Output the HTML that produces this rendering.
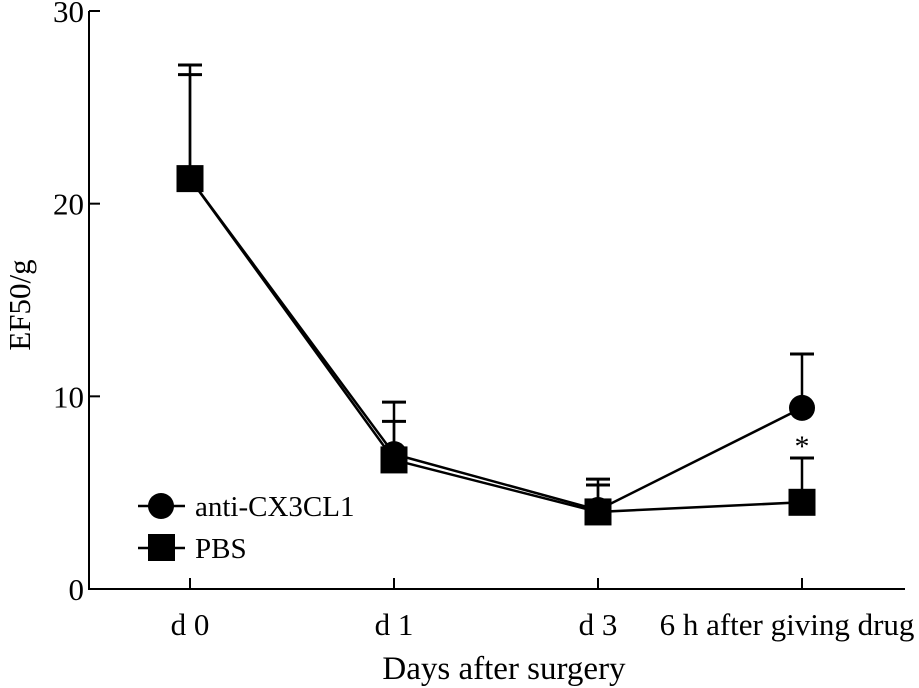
<!DOCTYPE html>
<html><head><meta charset="utf-8"><style>
body{margin:0;background:#fff}
svg{display:block;font-family:"Liberation Serif",serif}
</style></head><body>
<svg id="chart" width="919" height="688" viewBox="0 0 919 688" xmlns="http://www.w3.org/2000/svg"></svg>
<script>
const categories=["d 0","d 1","d 3","6 h after giving drug"];
const antiValues=[21.3,7.0,4.1,9.4];
const antiErr=[27.2,9.7,5.7,12.2];
const pbsValues=[21.3,6.7,4.0,4.5];
const pbsErr=[26.7,8.7,5.4,6.8];
const yTicks=[0,10,20,30];
const NS="http://www.w3.org/2000/svg";
const svg=document.getElementById('chart');
const catX=[190,394,598,802];
function xs(i){return catX[i];}
function ys(v){return 589-v*(578/30);}
function mk(t,a,p){const e=document.createElementNS(NS,t);for(const k in a)e.setAttribute(k,a[k]);(p||svg).appendChild(e);return e;}
let ya=mk('line',{x1:89,y1:11,x2:89,y2:590,stroke:'#000','stroke-width':2});


let xa=mk('line',{x1:88,y1:589,x2:905,y2:589,stroke:'#000','stroke-width':2});


yTicks.forEach(v=>{
  mk('line',{x1:89,y1:ys(v),x2:100,y2:ys(v),stroke:'#000','stroke-width':2});
  const t=mk('text',{x:84,y:ys(v)+11,'text-anchor':'end','font-size':31});
  t.textContent=v;
  
  
});
categories.forEach((c,i)=>{
  mk('line',{x1:xs(i),y1:578,x2:xs(i),y2:589,stroke:'#000','stroke-width':2});
  const t=mk('text',{x:i==3?787:xs(i),y:635,'text-anchor':'middle','font-size':31});
  t.textContent=c;
  
  
});
let xt=mk('text',{x:504,y:679,'text-anchor':'middle','font-size':33});
xt.textContent='Days after surgery';


let yt=mk('text',{x:0,y:0,'text-anchor':'middle','font-size':31,transform:'translate(30,305) rotate(-90)'});
yt.textContent='EF50/g';


function errs(vals,err){vals.forEach((v,i)=>{
  mk('line',{x1:xs(i),y1:ys(v),x2:xs(i),y2:ys(err[i]),stroke:'#000','stroke-width':2.5});
  mk('line',{x1:xs(i)-12,y1:ys(err[i]),x2:xs(i)+12,y2:ys(err[i]),stroke:'#000','stroke-width':3});
});}
errs(antiValues,antiErr);errs(pbsValues,pbsErr);
function line(vals,name){const l=mk('polyline',{points:vals.map((v,i)=>xs(i)+','+ys(v)).join(' '),fill:'none',stroke:'#000','stroke-width':2.5});

}
line(antiValues,'anti-cx3cl1-line');line(pbsValues,'pbs-line');
antiValues.forEach((v,i)=>{const c=mk('circle',{cx:xs(i),cy:ys(v),r:13,fill:'#000'});

});
pbsValues.forEach((v,i)=>{const r=mk('rect',{x:xs(i)-13.5,y:ys(v)-13.5,width:27,height:27,fill:'#000'});

});
let st=mk('text',{x:802,y:ys(pbsErr[3])-2,'text-anchor':'middle','font-size':30});
st.textContent='*';


const lg=mk('g',{});


mk('line',{x1:138,y1:506,x2:185,y2:506,stroke:'#000','stroke-width':2.5},lg);
mk('circle',{cx:161,cy:506,r:13,fill:'#000'},lg);
let l1=mk('text',{x:195,y:516,'font-size':29},lg);l1.textContent='anti-CX3CL1';
mk('line',{x1:138,y1:548,x2:185,y2:548,stroke:'#000','stroke-width':2.5},lg);
mk('rect',{x:148,y:534,width:27,height:27,fill:'#000'},lg);
let l2=mk('text',{x:195,y:558,'font-size':29},lg);l2.textContent='PBS';
</script>
</body></html>
